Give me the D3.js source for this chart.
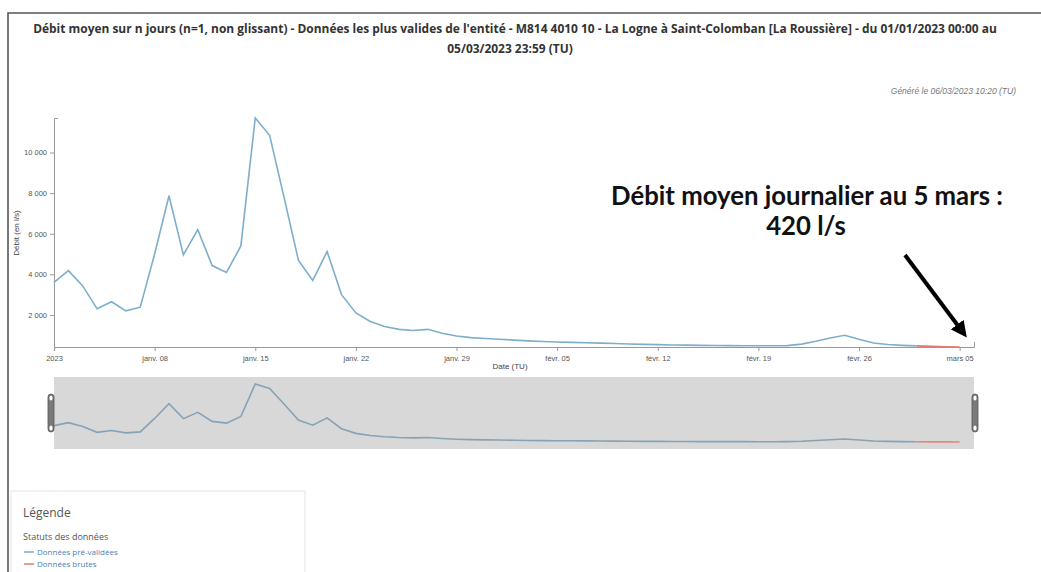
<!DOCTYPE html>
<html lang="fr">
<head>
<meta charset="utf-8">
<script src="https://cdn.jsdelivr.net/npm/d3@7"></script>
<style>
  html, body { margin: 0; padding: 0; background: #fff; }
  svg { display: block; font-family: "Liberation Sans", Arial, sans-serif; }
</style>
</head>
<body>
<svg id="chart" width="1041" height="572"></svg>
<script>
// débit moyen journalier (l/s)
const startDay = "2023-01-01";
const debitPreValide = [
  3600, 4180, 3430, 2300, 2650, 2200, 2380, 5000, 7870, 4960,
  6200, 4430, 4090, 5400, 11700, 10850, 7800, 4700, 3700, 5120,
  3000, 2100, 1680, 1430, 1290, 1230, 1290, 1100, 960, 880,
  840, 800, 760, 720, 690, 670, 650, 630, 610, 590,
  570, 550, 535, 520, 510, 500, 495, 490, 485, 480,
  480, 490, 560, 700, 860, 1000, 800, 620, 540, 500,
  475
];
// données brutes : 02/03 -> 05/03
const debitBrut = [475, 450, 435, 420];
const brutStart = 60; // index du 02/03

const yTicks = [2000, 4000, 6000, 8000, 10000];
const xTickDays = ["2023-01-01", "2023-01-08", "2023-01-15", "2023-01-22", "2023-01-29",
                   "2023-02-05", "2023-02-12", "2023-02-19", "2023-02-26", "2023-03-05"];
const xTickLabels = ["2023", "janv. 08", "janv. 15", "janv. 22", "janv. 29",
                     "févr. 05", "févr. 12", "févr. 19", "févr. 26", "mars 05"];
const domainEnd = "2023-03-05T23:59";

const titleLines = [
  "Débit moyen sur n jours (n=1, non glissant) - Données les plus valides de l'entité - M814 4010 10 - La Logne à Saint-Colomban [La Roussière] - du 01/01/2023 00:00 au",
  "05/03/2023 23:59 (TU)"
];
const annotLines = ["Débit moyen journalier au 5 mars  :", "420 l/s"];
const legendItems = [
  { label: "Données pré-validées", color: "#7eaecb" },
  { label: "Données brutes", color: "#e07a6e" }
];

(() => {
  const svg = d3.select("#chart");
  const parse = d3.utcParse("%Y-%m-%d");
  const t0 = parse(startDay);
  const dayAt = i => d3.utcDay.offset(t0, i);

  const pre = debitPreValide.map((v, i) => ({ t: dayAt(i), v }));
  const brut = debitBrut.map((v, i) => ({ t: dayAt(brutStart + i), v }));
  const all = pre.concat(brut);

  const fr = d3.formatLocale({ decimal: ",", thousands: "\u00a0", grouping: [3], currency: ["", " €"] });
  const fmt = fr.format(",d");

  // ajuste la taille de police pour tenir une largeur donnée
  function fitWidth(sel, w) {
    const node = sel.node();
    const fs = parseFloat(sel.attr("font-size"));
    const cur = node.getComputedTextLength();
    if (cur > 0) sel.attr("font-size", (fs * w / cur).toFixed(2));
  }

  // cadre
  svg.append("path")
    .attr("d", "M8,572 V13 H1041")
    .attr("fill", "none").attr("stroke", "#555").attr("stroke-width", 1.6);

  // titre
  const tl1 = svg.append("text").attr("x", 515).attr("y", 33)
    .attr("text-anchor", "middle").attr("font-family", "Open Sans")
    .attr("font-weight", 700).attr("font-size", 11).attr("fill", "#333")
    .text(titleLines[0]);
  fitWidth(tl1, 964);
  const tl2 = svg.append("text").attr("x", 510).attr("y", 53)
    .attr("text-anchor", "middle").attr("font-family", "Open Sans")
    .attr("font-weight", 700).attr("font-size", tl1.attr("font-size")).attr("fill", "#333")
    .text(titleLines[1]);

  svg.append("text").attr("x", 1016).attr("y", 94)
    .attr("text-anchor", "end").attr("font-style", "italic")
    .attr("font-size", 8.5).attr("fill", "#777")
    .text("Généré le 06/03/2023 10:20 (TU)");

  // échelles
  const x = d3.scaleUtc().domain([t0, d3.isoParse(domainEnd + ":00Z")]).range([54, 974]);
  const y = d3.scaleLinear().domain(d3.extent(all, d => d.v)).range([347, 118]);

  const axisCol = "#999", labCol = "#555";
  const gx = svg.append("g").attr("transform", "translate(0,347)")
    .call(d3.axisBottom(x)
      .tickValues(xTickDays.map(parse))
      .tickFormat((d, i) => xTickLabels[i])
      .tickSize(4).tickSizeOuter(-5));
  const gy = svg.append("g").attr("transform", "translate(54,0)")
    .call(d3.axisLeft(y).tickValues(yTicks).tickFormat(fmt).tickSize(4).tickSizeOuter(-4));
  [gx, gy].forEach(g => {
    g.attr("font-family", "Liberation Sans").attr("font-size", 7.5);
    g.selectAll("path, line").attr("stroke", axisCol);
    g.selectAll("text").attr("fill", labCol);
  });
  gx.selectAll("text").attr("dy", "0.9em");

  svg.append("text").attr("x", 510).attr("y", 369)
    .attr("text-anchor", "middle").attr("font-size", 8).attr("fill", "#444")
    .text("Date (TU)");
  svg.append("text").attr("transform", "translate(19,233) rotate(-90)")
    .attr("text-anchor", "middle").attr("font-size", 8).attr("fill", "#444")
    .text("Débit (en l/s)");

  // courbes
  const line = d3.line().x(d => x(d.t)).y(d => y(d.v));
  svg.append("path").datum(pre).attr("d", line)
    .attr("fill", "none").attr("stroke", legendItems[0].color).attr("stroke-width", 1.6);
  svg.append("path").datum(brut).attr("d", line)
    .attr("fill", "none").attr("stroke", legendItems[1].color).attr("stroke-width", 1.6);

  // navigateur
  const yN = d3.scaleLinear().domain(y.domain()).range([442, 384]);
  const lineN = d3.line().x(d => x(d.t)).y(d => yN(d.v));
  svg.append("rect").attr("x", 54).attr("y", 377).attr("width", 920).attr("height", 72)
    .attr("fill", "#d8d8d8");
  svg.append("path").datum(pre).attr("d", lineN)
    .attr("fill", "none").attr("stroke", "#86a2b6").attr("stroke-width", 1.6);
  svg.append("path").datum(brut).attr("d", lineN)
    .attr("fill", "none").attr("stroke", "#d98a82").attr("stroke-width", 1.6);
  [51, 975].forEach(hx => {
    const h = svg.append("g").attr("transform", `translate(${hx},413)`);
    h.append("rect").attr("x", -3).attr("y", -19).attr("width", 6).attr("height", 38)
      .attr("rx", 3).attr("fill", "#7a7a7a").attr("stroke", "#555").attr("stroke-width", 0.8);
    [-15, 15].forEach(dy => h.append("ellipse").attr("cx", 0).attr("cy", dy)
      .attr("rx", 1.6).attr("ry", 2.6).attr("fill", "#fff"));
  });

  // annotation
  const a1 = svg.append("text").attr("x", 807).attr("y", 205)
    .attr("text-anchor", "middle").attr("font-family", "Lato").attr("font-weight", 700)
    .attr("font-size", 20).attr("fill", "#111").text(annotLines[0]);
  fitWidth(a1, 392);
  svg.append("text").attr("x", 806).attr("y", 235)
    .attr("text-anchor", "middle").attr("font-family", "Lato").attr("font-weight", 700)
    .attr("font-size", a1.attr("font-size")).attr("fill", "#111").text(annotLines[1]);

  svg.append("defs").append("marker")
    .attr("id", "head").attr("viewBox", "0 0 10 10").attr("refX", 5).attr("refY", 5)
    .attr("markerWidth", 4).attr("markerHeight", 4).attr("orient", "auto")
    .append("path").attr("d", "M0,0 L10,5 L0,10 z").attr("fill", "#000");
  svg.append("line").attr("x1", 905).attr("y1", 255).attr("x2", 962).attr("y2", 331)
    .attr("stroke", "#000").attr("stroke-width", 4).attr("marker-end", "url(#head)");

  // légende
  const lg = svg.append("g");
  lg.append("rect").attr("x", 11).attr("y", 491).attr("width", 294).attr("height", 90)
    .attr("fill", "#fff").attr("stroke", "#e3e3e3");
  lg.append("text").attr("x", 23).attr("y", 517).attr("font-family", "Open Sans")
    .attr("font-size", 12).attr("fill", "#555").text("Légende");
  lg.append("text").attr("x", 23).attr("y", 540).attr("font-family", "Open Sans")
    .attr("font-size", 9).attr("fill", "#555").text("Statuts des données");
  legendItems.forEach((it, i) => {
    const yy = 552 + i * 12;
    lg.append("line").attr("x1", 24).attr("x2", 34).attr("y1", yy).attr("y2", yy)
      .attr("stroke", it.color).attr("stroke-width", 1.5);
    lg.append("text").attr("x", 37).attr("y", yy + 3).attr("font-family", "Open Sans")
      .attr("font-size", 8).attr("fill", "#4c7fb4").text(it.label);
  });
})();
</script>
</body>
</html>
